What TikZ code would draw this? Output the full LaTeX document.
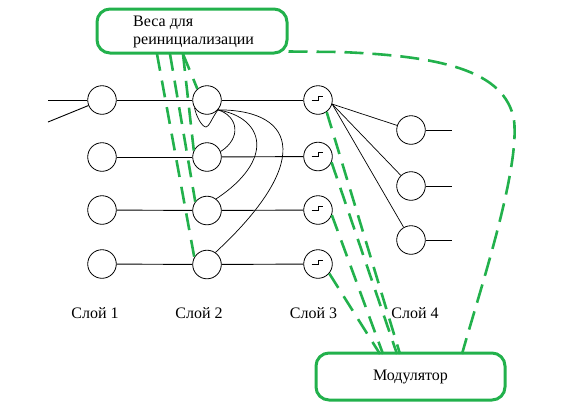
\documentclass[tikz,border=0pt]{standalone}
\usepackage{fontspec}
\setmainfont{Liberation Serif}
\definecolor{pgreen}{RGB}{34,177,76}
\begin{document}
\begin{tikzpicture}[x=1pt,y=-1pt,
  neuron/.style={circle, draw, line width=0.8pt, minimum size=28.6pt, inner sep=0pt},
  stepneuron/.style={neuron, path picture={\draw[line width=0.8pt]
      ([xshift=-6.5pt]path picture bounding box.center) -- ++(6.5pt,0) -- ++(0,4pt) -- ++(5pt,0);}},
  wire/.style={line width=0.9pt},
  thin wire/.style={line width=0.7pt},
  gdash/.style={draw=pgreen, line width=2.6pt, dash pattern=on 17pt off 10pt},
  glong/.style={draw=pgreen, line width=2.6pt, dash pattern=on 19pt off 9pt},
  gbox/.style={draw=pgreen, line width=3pt, rounded corners=13pt, inner sep=0pt},
  lbl/.style={font=\fontsize{16}{18}\selectfont}]
\useasboundingbox (0,0) rectangle (572,416);

% boxes
\node[gbox, minimum width=190pt, minimum height=44pt] (wbox) at (192,31) {};
\node[lbl, anchor=west, align=left, inner sep=0pt] (wtext) at (133,32) {Веса для\\реинициализации};
\node[gbox, lbl, minimum width=189pt, minimum height=47pt] (mod) at (410.5,376.5) {Модулятор};

% layer 1
\node[neuron] (n11) at (102,100) {};
\node[neuron] (n12) at (102,157) {};
\node[neuron] (n13) at (102,210) {};
\node[neuron] (n14) at (102,264) {};
% layer 2
\node[neuron] (n21) at (207,100) {};
\node[neuron] (n22) at (207,157) {};
\node[neuron] (n23) at (207,210.5) {};
\node[neuron] (n24) at (207,264.5) {};
% layer 3
\node[stepneuron] (n31) at (318,100) {};
\node[stepneuron] (n32) at (318,156.5) {};
\node[stepneuron] (n33) at (318,210) {};
\node[stepneuron] (n34) at (318,264) {};
% layer 4
\node[neuron] (n41) at (411,130) {};
\node[neuron] (n42) at (411,186) {};
\node[neuron] (n43) at (411,240) {};

% labels
\node[lbl, anchor=base] (s1) at (95,318) {Слой 1};
\node[lbl, anchor=base] (s2) at (199,318) {Слой 2};
\node[lbl, anchor=base] (s3) at (313.5,318) {Слой 3};
\node[lbl, anchor=base] (s4) at (415,318) {Слой 4};

% free ends
\coordinate (in1) at (48,100);
\coordinate (in2) at (48,122);
\coordinate (o1) at (452,130);
\coordinate (o2) at (452,186);
\coordinate (o3) at (452,240);

% black connectors
\draw[wire] (in1) -- (n11.west);
\draw[wire] (in2) -- (n11);
\foreach \r in {1,2,3,4}{
  \draw[wire] (n1\r) -- (n2\r);
  \draw[wire] (n2\r) -- (n3\r);
}
\draw[thin wire] (n31.-16) -- (n41);
\draw[thin wire] (n31.-16) -- (n42);
\draw[thin wire] (n31.-16) -- (n43);
\draw[wire] (n41) -- (o1);
\draw[wire] (n42) -- (o2);
\draw[wire] (n43) -- (o3);

% recurrent curves in layer 2
\draw[thin wire] (n21.-42) .. controls (212,118) and (209,127) .. (206,127)
                            .. controls (202,127) and (196,116) .. (n21.-148);
\draw[thin wire] (n21.-42) .. controls (238,116) and (242,138) .. (n22.22);
\draw[thin wire] (n21.-42) .. controls (265,118) and (275,160) .. (n23.52);
\draw[thin wire] (n21.-42) .. controls (300,110) and (310,165) .. (n24.55);

% green dashed from weight box
\coordinate (wA) at (157,54);
\coordinate (wB) at (170,54);
\coordinate (wC) at (183,54);
\draw[gdash] (wA) -- (n24.150);
\draw[gdash] (wB) -- (n23.143);
\draw[gdash] (wC) -- (n22.154);
\draw[gdash] (wC) -- (n21.131);

% green dashed to modulator
\coordinate (mA) at (400,354);
\coordinate (mB) at (397,354);
\coordinate (mC) at (383,354);
\coordinate (mD) at (380,354);
\draw[gdash] (n31.-54) -- (mA);
\draw[gdash] (n32.-23) -- (mB);
\draw[gdash] (n33.-20) -- (mC);
\draw[gdash] (n34.-40) -- (mD);

% long dashed curve from weight box to modulator
\coordinate (mE) at (462,354);
\draw[glong] ([yshift=3pt]wbox.south east) -- (340,52)
  .. controls (440,56) and (505,70) .. (514,120)
  .. controls (520,170) and (480,290) .. (mE);
\end{tikzpicture}
\end{document}
